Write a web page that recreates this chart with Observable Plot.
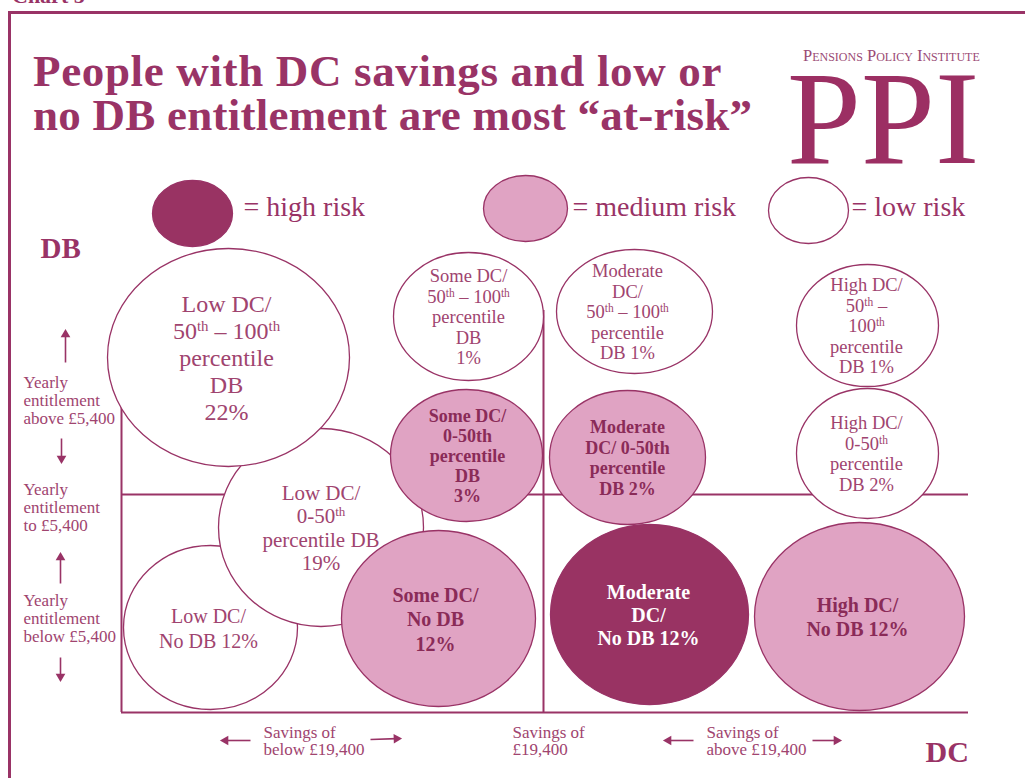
<!DOCTYPE html>
<html>
<head>
<meta charset="utf-8">
<script src="https://cdn.jsdelivr.net/npm/d3@7"></script>
<script src="https://cdn.jsdelivr.net/npm/@observablehq/plot@0.6"></script>
<style>
  body { margin: 0; background: #fff; }
  #page { position: relative; width: 1025px; height: 778px; overflow: hidden; background: #fff;
          font-family: "Liberation Serif", serif; color: #993366; }
  #frame { position: absolute; left: 8px; top: 11px; width: 1100px; height: 900px;
           border-top: 3px solid #993366; border-left: 3px solid #993366; }
  #chartno { position: absolute; left: 12px; top: -15px; font-size: 22px; line-height: 22px; font-weight: bold; }
  .title { position: absolute; left: 33px; font-size: 45px; line-height: 44px; height: 44px; font-weight: bold;
           white-space: nowrap; color: #993366; }
  #logoSmall { position: absolute; left: 803px; top: 48px; font-size: 16.5px; line-height: 16.5px;
               font-variant: small-caps; color: #9a4a74; white-space: nowrap; }
  #logoBig { position: absolute; left: 787px; top: 73px; font-size: 133px; line-height: 90px; height: 90px; color: #9c2f63; }
  #chart { position: absolute; left: 0; top: 165px; }
</style>
</head>
<body>
<div id="page">
  <div id="frame"></div>
  <div id="chartno">Chart 5</div>
  <div class="title" style="top:49px; letter-spacing:0.65px">People with DC savings and low or</div>
  <div class="title" style="top:93px; letter-spacing:0.25px">no DB entitlement are most “at-risk”</div>
  <div id="logoSmall">Pensions Policy Institute</div>
  <div id="logoBig">PPI</div>
  <div id="chart"></div>
</div>
<script>
// ---------------- DATA ----------------
const dcGroup = ["Low DC", "Low DC", "Low DC", "Some DC", "Some DC", "Some DC",
                 "Moderate DC", "Moderate DC", "Moderate DC", "High DC", "High DC", "High DC"];
const dbGroup = ["No DB", "0-50th percentile DB", "50th-100th percentile DB",
                 "No DB", "0-50th percentile DB", "50th-100th percentile DB",
                 "No DB", "0-50th percentile DB", "50th-100th percentile DB",
                 "No DB", "0-50th percentile DB", "50th-100th percentile DB"];
const sharePct = [12, 19, 22, 12, 3, 1, 12, 2, 1, 12, 2, 1];
const riskLevel = ["low", "low", "low", "medium", "medium", "low",
                   "high", "medium", "low", "medium", "low", "low"];
// label templates ({v} = share, ^th = superscript)
const labelText = [
  "Low DC/\nNo DB {v}%",
  "Low DC/\n0-50^th\npercentile DB\n{v}%",
  "Low DC/\n50^th – 100^th\npercentile\nDB\n{v}%",
  "Some DC/\nNo DB\n{v}%",
  "Some DC/\n0-50th\npercentile\nDB\n{v}%",
  "Some DC/\n50^th – 100^th\npercentile\nDB\n{v}%",
  "Moderate\nDC/\nNo DB {v}%",
  "Moderate\nDC/ 0-50th\npercentile\nDB {v}%",
  "Moderate\nDC/\n50^th – 100^th\npercentile\nDB {v}%",
  "High DC/\nNo DB {v}%",
  "High DC/\n0-50^th\npercentile\nDB {v}%",
  "High DC/\n50^th –\n100^th\npercentile\nDB {v}%"
];
const legendRisk = ["high", "medium", "low"];
const legendLabels = ["= high risk", "= medium risk", "= low risk"];
const dbBandLabels = ["Yearly\nentitlement\nabove £5,400", "Yearly\nentitlement\nto £5,400", "Yearly\nentitlement\nbelow £5,400"];
const dcBandLabels = ["Savings of\nbelow £19,400", "Savings of\n£19,400", "Savings of\nabove £19,400"];
const axisTitles = ["DB", "DC"];

// ---------------- LAYOUT (diagram units) ----------------
const bubbleLayout = [
  {cx: 210, cy: 627, rx: 87, ry: 82, fs: 20, ls: 25, dx: -2},
  {cx: 320.5, cy: 527, rx: 102.5, ry: 99, fs: 21, ls: 23.5, dx: 0},
  {cx: 228, cy: 357, rx: 121, ry: 109, fs: 24, ls: 27, dx: -2},
  {cx: 438, cy: 618, rx: 97, ry: 88, fs: 20, ls: 24.5, dx: -3},
  {cx: 466, cy: 455, rx: 76, ry: 66, fs: 18, ls: 20, dx: 1},
  {cx: 468, cy: 316, rx: 75, ry: 64, fs: 18.5, ls: 20.5, dx: 0},
  {cx: 649, cy: 614, rx: 99, ry: 90, fs: 20, ls: 23, dx: -1},
  {cx: 627, cy: 457, rx: 78, ry: 67, fs: 18, ls: 20.5, dx: 0},
  {cx: 634, cy: 311, rx: 78, ry: 62, fs: 18.5, ls: 20.5, dx: -7},
  {cx: 859, cy: 616, rx: 105, ry: 94, fs: 20, ls: 24, dx: -2},
  {cx: 867, cy: 453, rx: 71, ry: 65, fs: 18.5, ls: 20.5, dx: -1},
  {cx: 867, cy: 325, rx: 71, ry: 61, fs: 18.5, ls: 20.5, dx: -1}
];
const legendLayout = [
  {cx: 192, cy: 213, rx: 40, ry: 33, tx: 243, ty: 207},
  {cx: 525, cy: 208, rx: 42, ry: 33, tx: 572, ty: 207},
  {cx: 808, cy: 210, rx: 40, ry: 33, tx: 851, ty: 207}
];

const purple = "#993366";
const riskFill = {high: "#993363", medium: "#e0a3c3", low: "#ffffff"};
const riskText = {high: "#ffffff", medium: "#8a2b58", low: "#a0446f"};

const bubbles = sharePct.map((v, i) => ({
  dc: dcGroup[i], db: dbGroup[i], share: v, risk: riskLevel[i],
  label: labelText[i].replace("{v}", v), ...bubbleLayout[i]
}));
const legend = legendRisk.map((r, i) => ({risk: r, label: legendLabels[i], ...legendLayout[i]}));

function ellipseSymbol(rx, ry) {
  const k = 0.5522847;
  return {
    draw(ctx) {
      ctx.moveTo(rx, 0);
      ctx.bezierCurveTo(rx, k * ry, k * rx, ry, 0, ry);
      ctx.bezierCurveTo(-k * rx, ry, -rx, k * ry, -rx, 0);
      ctx.bezierCurveTo(-rx, -k * ry, -k * rx, -ry, 0, -ry);
      ctx.bezierCurveTo(k * rx, -ry, rx, -k * ry, rx, 0);
      ctx.closePath();
    }
  };
}

const bands = dbBandLabels.map((t, i) => ({t, x: 23, y: [400, 507, 618][i]}));
const dcBands = dcBandLabels.map((t, i) => ({t, x: [263, 512, 706][i], y: 740.5}));
const arrowLayout = [
  {x1: 65, y1: 362, x2: 65, y2: 329}, {x1: 61, y1: 438, x2: 61, y2: 463},
  {x1: 60, y1: 583, x2: 60, y2: 552}, {x1: 60, y1: 657, x2: 60, y2: 681},
  {x1: 250, y1: 740, x2: 220, y2: 740}, {x1: 370, y1: 739, x2: 401, y2: 738},
  {x1: 693, y1: 740, x2: 663, y2: 740}, {x1: 812, y1: 740, x2: 841, y2: 740}
];
const arrows = arrowLayout.map(a => {
  const L = Math.hypot(a.x2 - a.x1, a.y2 - a.y1), ux = (a.x2 - a.x1) / L, uy = (a.y2 - a.y1) / L;
  return {...a, hx: a.x2 - ux * 5, hy: a.y2 - uy * 5, rot: Math.atan2(ux, -uy) * 180 / Math.PI};
});

const marks = [
  // grid lines (behind bubbles)
  Plot.ruleY([494], {x1: 121, x2: 968, stroke: purple, strokeWidth: 2}),
  Plot.ruleY([712], {x1: 121, x2: 968, stroke: purple, strokeWidth: 2}),
  Plot.ruleX([121], {y1: 390, y2: 712, stroke: purple, strokeWidth: 2}),
  Plot.ruleX([543], {y1: 310, y2: 712, stroke: purple, strokeWidth: 2}),
  // legend
  ...legend.map(d => Plot.dot([d], {x: "cx", y: "cy", r: d.rx, symbol: ellipseSymbol(d.rx, d.ry),
      fill: riskFill[d.risk], stroke: purple, strokeWidth: 1.3})),
  Plot.text(legend, {x: "tx", y: "ty", text: "label", textAnchor: "start", fontSize: 28, fill: purple}),
  // bubbles
  ...bubbles.map(d => Plot.dot([d], {x: "cx", y: "cy", r: d.rx, symbol: ellipseSymbol(d.rx, d.ry),
      fill: riskFill[d.risk], stroke: purple, strokeWidth: 1.3})),
  ...bubbles.map(d => Plot.text([d], {x: b => b.cx + b.dx, y: "cy", text: "label",
      fontSize: d.fs, lineHeight: d.ls / d.fs, fontWeight: d.risk === "low" ? "normal" : "bold",
      fill: riskText[d.risk], lineAnchor: "middle"})),
  // band annotations
  Plot.text(bands, {x: "x", y: "y", text: "t", textAnchor: "start", fontSize: 17, lineHeight: 18 / 17, fill: "#a0446f"}),
  Plot.text(dcBands, {x: "x", y: "y", text: "t", textAnchor: "start", fontSize: 17, lineHeight: 1.02, fill: "#a0446f"}),
  Plot.link(arrows, {x1: "x1", y1: "y1", x2: "hx", y2: "hy", stroke: purple, strokeWidth: 1.6}),
  Plot.dot(arrows, {x: "hx", y: "hy", symbol: "triangle", r: 3.6, rotate: "rot", fill: purple, stroke: "none"}),
  // axis titles
  Plot.text([axisTitles[0]], {x: () => 40, y: () => 248, text: d => d, textAnchor: "start", fontSize: 29, fontWeight: "bold", fill: purple}),
  Plot.text([axisTitles[1]], {x: () => 925, y: () => 752, text: d => d, textAnchor: "start", fontSize: 30, fontWeight: "bold", fill: purple})
];

const svg = Plot.plot({
  width: 1025, height: 613, margin: 0,
  x: {domain: [0, 1025], range: [0, 1025], axis: null},
  y: {domain: [165, 778], range: [0, 613], axis: null},
  style: {fontFamily: "Liberation Serif, serif", background: "transparent", overflow: "visible"},
  marks
});

// superscripts: replace "^th" with raised small tspans
const NS = "http://www.w3.org/2000/svg";
svg.querySelectorAll("text, tspan").forEach(el => {
  Array.from(el.childNodes).forEach(node => {
    if (node.nodeType === 3 && node.nodeValue.includes("^")) {
      const parts = node.nodeValue.split("^th");
      const frag = document.createDocumentFragment();
      parts.forEach((p, j) => {
        if (p) frag.appendChild(document.createTextNode(p));
        if (j < parts.length - 1) {
          const s = document.createElementNS(NS, "tspan");
          s.setAttribute("baseline-shift", "super");
          s.setAttribute("font-size", "62%");
          s.textContent = "th";
          frag.appendChild(s);
        }
      });
      el.replaceChild(frag, node);
    }
  });
});

document.getElementById("chart").appendChild(svg);
</script>
</body>
</html>
